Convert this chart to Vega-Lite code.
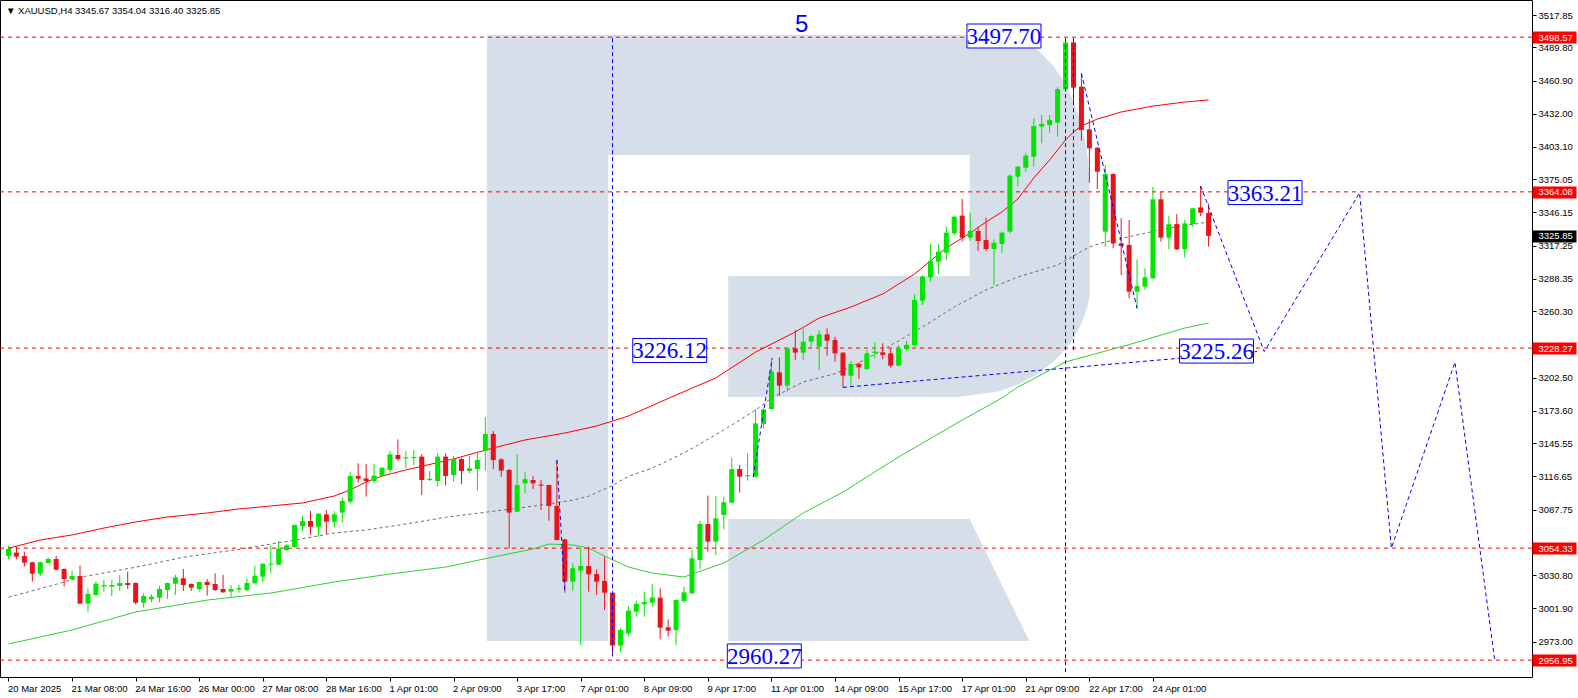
{
"$schema":"https://vega.github.io/schema/vega-lite/v6.json",
"width":1532,"height":677,
"autosize":{"type":"none"},
"padding":{"left":0,"top":0,"right":46,"bottom":21},
"background":"white",
"title":{"text":"▼ XAUUSD,H4  3345.67 3354.04 3316.40 3325.85","anchor":"start","orient":"top","frame":"group","offset":-15,"dx":6,"fontSize":9.5,"font":"Liberation Sans","fontWeight":"normal","color":"black"},
"config":{"view":{"stroke":"black","strokeWidth":1},"font":"Liberation Sans",
 "axis":{"title":null,"grid":false,"domain":false,"tickColor":"black","tickSize":4,"labelFont":"Liberation Sans","labelFontSize":9.5,"labelColor":"black","labelOverlap":false,"labelFlush":false,"labelBound":false}},
"datasets":{
"candles":[
{"i":0,"o":3047.5,"h":3056.2,"l":3044.6,"c":3053.6},
{"i":1,"o":3050.4,"h":3055.6,"l":3044.6,"c":3046.9},
{"i":2,"o":3047.5,"h":3051.3,"l":3038.2,"c":3041.7},
{"i":3,"o":3042.0,"h":3042.6,"l":3025.2,"c":3032.1},
{"i":4,"o":3032.1,"h":3042.6,"l":3030.4,"c":3042.0},
{"i":5,"o":3041.4,"h":3046.3,"l":3041.1,"c":3044.9},
{"i":6,"o":3044.9,"h":3047.5,"l":3035.0,"c":3035.6},
{"i":7,"o":3036.2,"h":3036.8,"l":3020.8,"c":3027.5},
{"i":8,"o":3027.5,"h":3035.0,"l":3026.6,"c":3030.1},
{"i":9,"o":3030.1,"h":3039.1,"l":3005.5,"c":3006.1},
{"i":10,"o":3006.1,"h":3019.4,"l":2999.1,"c":3014.5},
{"i":11,"o":3013.6,"h":3025.2,"l":3013.0,"c":3023.4},
{"i":12,"o":3021.1,"h":3026.6,"l":3016.5,"c":3022.2},
{"i":13,"o":3020.8,"h":3026.6,"l":3012.7,"c":3022.3},
{"i":14,"o":3021.4,"h":3031.0,"l":3017.1,"c":3024.0},
{"i":15,"o":3024.0,"h":3033.9,"l":3018.8,"c":3022.3},
{"i":16,"o":3024.0,"h":3024.6,"l":3005.5,"c":3006.9},
{"i":17,"o":3006.9,"h":3015.0,"l":3002.6,"c":3012.7},
{"i":18,"o":3009.8,"h":3014.2,"l":3007.2,"c":3012.1},
{"i":19,"o":3011.3,"h":3021.7,"l":3007.2,"c":3018.8},
{"i":20,"o":3017.9,"h":3024.3,"l":3010.1,"c":3024.0},
{"i":21,"o":3023.4,"h":3031.0,"l":3013.6,"c":3028.9},
{"i":22,"o":3028.1,"h":3036.2,"l":3017.1,"c":3022.3},
{"i":23,"o":3023.2,"h":3023.5,"l":3017.1,"c":3020.0},
{"i":24,"o":3018.8,"h":3025.2,"l":3016.5,"c":3024.9},
{"i":25,"o":3024.9,"h":3027.5,"l":3013.0,"c":3022.3},
{"i":26,"o":3023.2,"h":3032.4,"l":3017.1,"c":3017.9},
{"i":27,"o":3018.8,"h":3031.0,"l":3015.6,"c":3015.9},
{"i":28,"o":3016.5,"h":3022.3,"l":3012.1,"c":3018.8},
{"i":29,"o":3018.5,"h":3022.3,"l":3015.6,"c":3019.7},
{"i":30,"o":3017.9,"h":3028.1,"l":3017.1,"c":3024.0},
{"i":31,"o":3023.7,"h":3039.1,"l":3023.1,"c":3030.4},
{"i":32,"o":3029.5,"h":3041.1,"l":3025.2,"c":3040.8},
{"i":33,"o":3040.0,"h":3056.5,"l":3032.4,"c":3040.9},
{"i":34,"o":3040.0,"h":3060.5,"l":3039.8,"c":3053.9},
{"i":35,"o":3052.7,"h":3057.6,"l":3052.1,"c":3056.8},
{"i":36,"o":3055.3,"h":3074.8,"l":3055.0,"c":3074.5},
{"i":37,"o":3073.6,"h":3082.6,"l":3069.2,"c":3077.9},
{"i":38,"o":3077.9,"h":3086.6,"l":3065.8,"c":3073.0},
{"i":39,"o":3073.0,"h":3084.6,"l":3064.3,"c":3084.3},
{"i":40,"o":3083.7,"h":3087.5,"l":3066.6,"c":3077.3},
{"i":41,"o":3077.3,"h":3086.6,"l":3072.4,"c":3083.7},
{"i":42,"o":3085.2,"h":3098.2,"l":3076.5,"c":3095.3},
{"i":43,"o":3094.7,"h":3120.8,"l":3093.3,"c":3117.1},
{"i":44,"o":3117.1,"h":3128.1,"l":3111.3,"c":3114.7},
{"i":45,"o":3115.0,"h":3127.5,"l":3099.1,"c":3112.7},
{"i":46,"o":3112.7,"h":3127.5,"l":3110.7,"c":3117.4},
{"i":47,"o":3117.4,"h":3124.6,"l":3116.5,"c":3124.3},
{"i":48,"o":3122.3,"h":3138.8,"l":3119.9,"c":3135.9},
{"i":49,"o":3135.3,"h":3148.9,"l":3130.1,"c":3131.8},
{"i":50,"o":3132.4,"h":3138.8,"l":3123.7,"c":3133.4},
{"i":51,"o":3132.6,"h":3139.6,"l":3126.6,"c":3133.6},
{"i":52,"o":3133.9,"h":3136.2,"l":3100.5,"c":3113.6},
{"i":53,"o":3113.6,"h":3121.4,"l":3112.7,"c":3114.6},
{"i":54,"o":3112.7,"h":3136.8,"l":3107.8,"c":3133.9},
{"i":55,"o":3133.9,"h":3136.8,"l":3108.7,"c":3117.1},
{"i":56,"o":3117.9,"h":3134.4,"l":3112.1,"c":3131.8},
{"i":57,"o":3131.8,"h":3133.0,"l":3110.1,"c":3121.4},
{"i":58,"o":3121.4,"h":3134.4,"l":3119.4,"c":3123.7},
{"i":59,"o":3123.1,"h":3138.2,"l":3104.3,"c":3130.9},
{"i":60,"o":3139.1,"h":3168.1,"l":3121.7,"c":3153.6},
{"i":61,"o":3153.6,"h":3156.1,"l":3123.1,"c":3130.9},
{"i":62,"o":3131.5,"h":3132.4,"l":3116.5,"c":3121.7},
{"i":63,"o":3122.3,"h":3123.1,"l":3054.2,"c":3085.2},
{"i":64,"o":3086.0,"h":3136.2,"l":3085.5,"c":3109.2},
{"i":65,"o":3110.7,"h":3120.8,"l":3102.0,"c":3114.3},
{"i":66,"o":3113.6,"h":3117.1,"l":3105.8,"c":3110.7},
{"i":67,"o":3109.6,"h":3113.6,"l":3087.5,"c":3108.6},
{"i":68,"o":3109.2,"h":3109.5,"l":3078.2,"c":3091.0},
{"i":69,"o":3091.0,"h":3131.0,"l":3061.0,"c":3061.4},
{"i":70,"o":3062.0,"h":3062.3,"l":3015.6,"c":3025.2},
{"i":71,"o":3025.2,"h":3041.1,"l":3017.4,"c":3036.8},
{"i":72,"o":3034.8,"h":3054.2,"l":2970.1,"c":3038.8},
{"i":73,"o":3038.8,"h":3055.6,"l":3016.5,"c":3031.6},
{"i":74,"o":3031.8,"h":3035.9,"l":3013.6,"c":3025.2},
{"i":75,"o":3025.8,"h":3046.9,"l":3000.6,"c":3015.6},
{"i":76,"o":3015.6,"h":3015.9,"l":2960.3,"c":2969.6},
{"i":77,"o":2969.6,"h":2985.2,"l":2963.8,"c":2983.2},
{"i":78,"o":2980.3,"h":3004.0,"l":2977.9,"c":3000.0},
{"i":79,"o":2999.1,"h":3008.7,"l":2994.8,"c":3005.8},
{"i":80,"o":3005.5,"h":3016.5,"l":2994.8,"c":3007.5},
{"i":81,"o":3006.9,"h":3023.2,"l":3003.5,"c":3011.3},
{"i":82,"o":3011.3,"h":3019.4,"l":2975.1,"c":2985.2},
{"i":83,"o":2985.5,"h":2992.4,"l":2977.4,"c":2982.6},
{"i":84,"o":2983.2,"h":3009.8,"l":2970.1,"c":3009.2},
{"i":85,"o":3008.4,"h":3020.8,"l":3006.9,"c":3015.9},
{"i":86,"o":3015.0,"h":3052.7,"l":3014.7,"c":3045.5},
{"i":87,"o":3044.0,"h":3078.2,"l":3036.2,"c":3075.3},
{"i":88,"o":3075.3,"h":3100.0,"l":3051.3,"c":3060.0},
{"i":89,"o":3060.0,"h":3099.7,"l":3048.4,"c":3080.2},
{"i":90,"o":3083.2,"h":3099.1,"l":3070.7,"c":3094.2},
{"i":91,"o":3093.9,"h":3133.0,"l":3093.6,"c":3123.1},
{"i":92,"o":3123.1,"h":3126.6,"l":3102.6,"c":3116.5},
{"i":93,"o":3116.8,"h":3136.8,"l":3113.0,"c":3117.8},
{"i":94,"o":3116.5,"h":3175.0,"l":3116.2,"c":3162.8},
{"i":95,"o":3162.3,"h":3175.9,"l":3158.5,"c":3175.0},
{"i":96,"o":3175.3,"h":3219.4,"l":3175.0,"c":3207.8},
{"i":97,"o":3207.2,"h":3220.2,"l":3186.9,"c":3195.6},
{"i":98,"o":3195.6,"h":3228.9,"l":3190.4,"c":3228.0},
{"i":99,"o":3228.0,"h":3244.0,"l":3217.9,"c":3224.3},
{"i":100,"o":3224.3,"h":3245.4,"l":3217.9,"c":3233.8},
{"i":101,"o":3233.8,"h":3239.6,"l":3228.0,"c":3238.8},
{"i":102,"o":3229.5,"h":3244.0,"l":3209.2,"c":3240.2},
{"i":103,"o":3240.2,"h":3245.4,"l":3221.7,"c":3234.7},
{"i":104,"o":3235.3,"h":3238.2,"l":3216.4,"c":3223.7},
{"i":105,"o":3224.3,"h":3224.6,"l":3193.9,"c":3204.3},
{"i":106,"o":3204.3,"h":3217.0,"l":3195.3,"c":3214.4},
{"i":107,"o":3214.4,"h":3215.9,"l":3201.4,"c":3211.5},
{"i":108,"o":3210.1,"h":3226.6,"l":3209.2,"c":3223.7},
{"i":109,"o":3224.1,"h":3233.3,"l":3219.4,"c":3225.1},
{"i":110,"o":3224.6,"h":3232.4,"l":3218.5,"c":3222.3},
{"i":111,"o":3223.7,"h":3228.0,"l":3211.2,"c":3213.0},
{"i":112,"o":3213.0,"h":3230.9,"l":3212.7,"c":3228.0},
{"i":113,"o":3227.7,"h":3234.4,"l":3226.0,"c":3231.0},
{"i":114,"o":3230.9,"h":3275.0,"l":3229.5,"c":3270.1},
{"i":115,"o":3269.5,"h":3291.8,"l":3265.7,"c":3290.4},
{"i":116,"o":3289.8,"h":3318.8,"l":3286.0,"c":3304.0},
{"i":117,"o":3303.4,"h":3318.5,"l":3292.7,"c":3312.1},
{"i":118,"o":3311.2,"h":3333.8,"l":3304.8,"c":3328.6},
{"i":119,"o":3328.0,"h":3343.4,"l":3326.6,"c":3342.5},
{"i":120,"o":3343.4,"h":3357.9,"l":3320.8,"c":3324.3},
{"i":121,"o":3324.3,"h":3346.0,"l":3321.4,"c":3330.1},
{"i":122,"o":3330.1,"h":3333.8,"l":3313.0,"c":3321.4},
{"i":123,"o":3322.2,"h":3341.9,"l":3312.7,"c":3314.4},
{"i":124,"o":3314.4,"h":3322.8,"l":3283.1,"c":3319.9},
{"i":125,"o":3318.8,"h":3329.5,"l":3311.2,"c":3328.6},
{"i":126,"o":3329.5,"h":3379.3,"l":3328.0,"c":3378.2},
{"i":127,"o":3377.3,"h":3386.6,"l":3369.2,"c":3386.0},
{"i":128,"o":3385.1,"h":3398.2,"l":3381.6,"c":3395.6},
{"i":129,"o":3394.7,"h":3428.0,"l":3386.0,"c":3421.3},
{"i":130,"o":3420.8,"h":3430.9,"l":3406.3,"c":3423.1},
{"i":131,"o":3422.2,"h":3430.9,"l":3415.5,"c":3426.6},
{"i":132,"o":3424.2,"h":3455.0,"l":3412.1,"c":3453.5},
{"i":133,"o":3453.2,"h":3497.7,"l":3451.2,"c":3494.0},
{"i":134,"o":3494.0,"h":3497.7,"l":3442.5,"c":3454.7},
{"i":135,"o":3455.5,"h":3467.1,"l":3408.6,"c":3417.9},
{"i":136,"o":3418.4,"h":3427.1,"l":3372.1,"c":3401.9},
{"i":137,"o":3402.5,"h":3402.8,"l":3366.6,"c":3381.6},
{"i":138,"o":3329.5,"h":3387.4,"l":3316.4,"c":3379.6},
{"i":139,"o":3379.6,"h":3380.2,"l":3315.0,"c":3319.3},
{"i":140,"o":3319.3,"h":3341.1,"l":3291.8,"c":3317.0},
{"i":141,"o":3317.9,"h":3339.6,"l":3271.5,"c":3277.3},
{"i":142,"o":3277.3,"h":3305.4,"l":3262.8,"c":3282.2},
{"i":143,"o":3281.7,"h":3297.6,"l":3278.8,"c":3289.8},
{"i":144,"o":3288.9,"h":3368.6,"l":3288.6,"c":3357.6},
{"i":145,"o":3357.6,"h":3364.3,"l":3320.8,"c":3324.3},
{"i":146,"o":3324.3,"h":3343.1,"l":3314.4,"c":3335.9},
{"i":147,"o":3336.1,"h":3344.8,"l":3313.5,"c":3314.1},
{"i":148,"o":3314.4,"h":3339.6,"l":3306.9,"c":3336.7},
{"i":149,"o":3336.1,"h":3350.3,"l":3333.8,"c":3349.8},
{"i":150,"o":3350.6,"h":3369.2,"l":3343.1,"c":3346.0},
{"i":151,"o":3345.67,"h":3354.04,"l":3316.40,"c":3325.85}
],
"ma_red":[
{"i":0,"p":3054.2},{"i":4,"p":3061.4},{"i":8,"p":3065.8},{"i":12,"p":3071.8},{"i":16,"p":3077.1},{"i":20,"p":3081.4},{"i":25,"p":3084.9},{"i":29,"p":3088.4},{"i":33,"p":3091.0},{"i":37,"p":3093.6},{"i":41,"p":3099.7},{"i":43,"p":3104.9},{"i":45,"p":3111.8},{"i":47,"p":3117.0},{"i":50,"p":3122.3},{"i":56,"p":3131.9},{"i":61,"p":3141.4},{"i":65,"p":3148.4},{"i":70,"p":3154.4},{"i":74,"p":3160.5},{"i":78,"p":3169.2},{"i":84,"p":3187.5},{"i":89,"p":3202.3},{"i":94,"p":3224.8},{"i":99,"p":3242.3},{"i":102,"p":3254.4},{"i":106,"p":3264.0},{"i":110,"p":3275.3},{"i":114,"p":3292.7},{"i":118,"p":3315.3},{"i":121,"p":3328.3},{"i":123,"p":3337.9},{"i":125,"p":3346.6},{"i":127,"p":3357.9},{"i":129,"p":3376.1},{"i":131,"p":3391.8},{"i":133,"p":3409.2},{"i":134,"p":3416.1},{"i":135,"p":3421.4},{"i":137,"p":3427.4},{"i":140,"p":3433.5},{"i":144,"p":3438.7},{"i":148,"p":3442.2},{"i":151,"p":3444.0}
],
"ma_gray":[
{"i":0,"p":3011.6},{"i":6,"p":3022.9},{"i":9,"p":3029.0},{"i":16,"p":3037.7},{"i":22,"p":3046.4},{"i":29,"p":3053.3},{"i":33,"p":3057.9},{"i":36,"p":3061.3},{"i":41,"p":3067.5},{"i":45,"p":3070.1},{"i":50,"p":3075.3},{"i":55,"p":3081.2},{"i":61,"p":3086.4},{"i":66,"p":3090.8},{"i":71,"p":3096.0},{"i":73,"p":3099.4},{"i":76,"p":3108.9},{"i":78,"p":3116.7},{"i":81,"p":3124.0},{"i":85,"p":3137.1},{"i":90,"p":3157.0},{"i":94,"p":3174.4},{"i":96,"p":3184.9},{"i":100,"p":3198.8},{"i":104,"p":3206.0},{"i":106,"p":3211.8},{"i":110,"p":3226.6},{"i":115,"p":3246.6},{"i":119,"p":3264.0},{"i":123,"p":3278.8},{"i":127,"p":3290.1},{"i":132,"p":3300.5},{"i":136,"p":3316.2},{"i":138,"p":3320.5},{"i":142,"p":3326.6},{"i":146,"p":3332.7},{"i":151,"p":3337.9}
],
"ma_green":[
{"i":0,"p":2971.0},{"i":8,"p":2983.2},{"i":16,"p":2998.8},{"i":25,"p":3009.2},{"i":33,"p":3015.3},{"i":41,"p":3024.9},{"i":48,"p":3031.8},{"i":55,"p":3037.9},{"i":61,"p":3046.6},{"i":66,"p":3053.6},{"i":68,"p":3057.9},{"i":71,"p":3057.1},{"i":73,"p":3054.4},{"i":75,"p":3047.5},{"i":78,"p":3037.9},{"i":81,"p":3032.7},{"i":85,"p":3029.2},{"i":86,"p":3031.8},{"i":90,"p":3041.4},{"i":95,"p":3061.4},{"i":100,"p":3084.9},{"i":105,"p":3103.1},{"i":112,"p":3133.6},{"i":120,"p":3165.7},{"i":125,"p":3184.9},{"i":127,"p":3194.4},{"i":133,"p":3216.2},{"i":141,"p":3231.3},{"i":148,"p":3245.7},{"i":151,"p":3250.1}
],
"levels":[{"p":3498.57},{"p":3364.08},{"p":3228.27},{"p":3054.33},{"p":2956.95}],
"dashes":[
{"s":1,"n":0,"i":76,"p":3497.7},{"s":1,"n":1,"i":76,"p":2960.27},
{"s":2,"n":0,"i":133,"p":3497.7},{"s":2,"n":1,"i":133,"p":2946.6},
{"s":3,"n":0,"i":134,"p":3497.7},{"s":3,"n":1,"i":134,"p":3226.0},
{"s":4,"n":0,"i":69,"p":3131.0},{"s":4,"n":1,"i":70,"p":3015.6},
{"s":5,"n":0,"i":93.7,"p":3116.2},{"s":5,"n":1,"i":96.1,"p":3219.6},
{"s":6,"n":0,"i":105,"p":3194.1},{"s":6,"n":1,"i":157.1,"p":3225.26},
{"s":7,"n":0,"i":135,"p":3467.1},{"s":7,"n":1,"i":142,"p":3262.8},
{"s":8,"n":0,"i":150,"p":3369.2},{"s":8,"n":1,"i":158,"p":3225.26},{"s":8,"n":2,"i":170,"p":3363.21},{"s":8,"n":3,"i":174,"p":3054.33},{"s":8,"n":4,"i":182,"p":3216.0},{"s":8,"n":5,"i":187,"p":2956.95}
],
"labels":[
{"t":"3497.70","i":125.25,"p":3499.6},
{"t":"3363.21","i":158.1,"p":3363.5},
{"t":"3225.26","i":152.0,"p":3225.7},
{"t":"3226.12","i":83.2,"p":3226.2},
{"t":"2960.27","i":95.1,"p":2960.6}
],
"wave":[{"t":"5","i":99.8,"p":3509.2}],
"wm_stem":[{"i":60.19,"i2":75.44,"p":3500.46,"p2":2973.6}],
"wm_bowl":[
{"i":75.3,"p":3500.46,"p2":3185.74},
{"i":119.56,"p":3500.46,"p2":3185.74},
{"i":124.56,"p":3500.46,"p2":3190.44},
{"i":127.06,"p":3497.25,"p2":3196.70},
{"i":129.56,"p":3487.07,"p2":3206.18},
{"i":131.44,"p":3473.68,"p2":3216.27},
{"i":132.69,"p":3461.08,"p2":3225.05},
{"i":133.94,"p":3443.78,"p2":3236.35},
{"i":134.81,"p":3426.82,"p2":3246.74},
{"i":135.44,"p":3409.52,"p2":3257.30},
{"i":135.81,"p":3393.53,"p2":3266.00},
{"i":136.06,"p":3365.71,"p2":3275.03}
],
"wm_holes":[{"i":75.44,"i2":120.94,"p":3396.1,"p2":3290.9},{"i":75.44,"i2":90.56,"p":3291.5,"p2":3184.0}],
"wm_leg":[{"i":90.56,"p":3079.7,"p2":2973.6},{"i":120.94,"p":3079.7,"p2":2973.6},{"i":128.44,"p":2973.6,"p2":2973.6}]
},
"encoding":{
 "x":{"field":"i","type":"quantitative","scale":{"domain":[-0.4375,191.0625],"nice":false,"zero":false},
   "axis":{"orient":"bottom","values":[0,8,16,24,32,40,48,56,64,72,80,88,96,104,112,120,128,136,144],
   "labelExpr":"['20 Mar 2025','21 Mar 08:00','24 Mar 16:00','26 Mar 00:00','27 Mar 08:00','28 Mar 16:00','1 Apr 01:00','2 Apr 09:00','3 Apr 17:00','7 Apr 01:00','8 Apr 09:00','9 Apr 17:00','11 Apr 01:00','14 Apr 09:00','15 Apr 17:00','17 Apr 01:00','21 Apr 09:00','22 Apr 17:00','24 Apr 01:00'][round(datum.value/8)]",
   "labelAlign":"left","labelBaseline":"top","labelPadding":2,"labelOffset":-1}},
 "y":{"field":"p","type":"quantitative","scale":{"domain":[2942.3,3530.9],"nice":false,"zero":false},
   "axis":{"orient":"right","values":[3517.85,3498.57,3489.80,3460.90,3432.00,3403.10,3375.05,3364.08,3346.15,3325.85,3317.25,3288.35,3260.30,3228.27,3202.50,3173.60,3145.55,3116.65,3087.75,3054.33,3030.80,3001.90,2973.00,2956.95],
   "format":".2f","labelAlign":"left","labelBaseline":"middle",
   "tickSize":{"condition":{"test":"indexof([3498.57,3364.08,3228.27,3054.33,2956.95,3325.85],datum.value)>=0","value":44},"value":4},
   "tickWidth":{"condition":{"test":"indexof([3498.57,3364.08,3228.27,3054.33,2956.95,3325.85],datum.value)>=0","value":12},"value":1},
   "tickColor":{"condition":{"test":"indexof([3498.57,3364.08,3228.27,3054.33,2956.95],datum.value)>=0","value":"#ff0000"},"value":"black"},
   "labelColor":{"condition":{"test":"indexof([3498.57,3364.08,3228.27,3054.33,2956.95,3325.85],datum.value)>=0","value":"white"},"value":"black"},
   "labelPadding":{"condition":{"test":"indexof([3498.57,3364.08,3228.27,3054.33,2956.95,3325.85],datum.value)>=0","value":-38},"value":2}}}
},
"layer":[
{"data":{"name":"wm_stem"},"mark":{"type":"rect","color":"#d6dee9"},"encoding":{"x2":{"field":"i2"},"y2":{"field":"p2"}}},
{"data":{"name":"wm_bowl"},"mark":{"type":"area","color":"#d6dee9","opacity":1},"encoding":{"y2":{"field":"p2"}}},
{"data":{"name":"wm_holes"},"mark":{"type":"rect","color":"white"},"encoding":{"x2":{"field":"i2"},"y2":{"field":"p2"}}},
{"data":{"name":"wm_leg"},"mark":{"type":"area","color":"#d6dee9","opacity":1},"encoding":{"y2":{"field":"p2"}}},
{"data":{"name":"levels"},"mark":{"type":"rule","color":"#ff0000","strokeDash":[4,4],"strokeWidth":1},"encoding":{"x":null}},
{"data":{"name":"ma_red"},"mark":{"type":"line","color":"#ff0000","strokeWidth":1},"encoding":{}},
{"data":{"name":"ma_gray"},"mark":{"type":"line","color":"#6a6a6a","strokeWidth":1,"strokeDash":[3,3]},"encoding":{}},
{"data":{"name":"ma_green"},"mark":{"type":"line","color":"#32cd32","strokeWidth":1},"encoding":{}},
{"data":{"name":"candles"},"mark":{"type":"rule","strokeWidth":1},
 "encoding":{"y":{"field":"l","type":"quantitative","scale":{"domain":[2942.3,3530.9],"nice":false,"zero":false},
   "axis":{"orient":"right","values":[3517.85,3498.57,3489.80,3460.90,3432.00,3403.10,3375.05,3364.08,3346.15,3325.85,3317.25,3288.35,3260.30,3228.27,3202.50,3173.60,3145.55,3116.65,3087.75,3054.33,3030.80,3001.90,2973.00,2956.95],
   "format":".2f","labelAlign":"left","labelBaseline":"middle",
   "tickSize":{"condition":{"test":"indexof([3498.57,3364.08,3228.27,3054.33,2956.95,3325.85],datum.value)>=0","value":44},"value":4},
   "tickWidth":{"condition":{"test":"indexof([3498.57,3364.08,3228.27,3054.33,2956.95,3325.85],datum.value)>=0","value":12},"value":1},
   "tickColor":{"condition":{"test":"indexof([3498.57,3364.08,3228.27,3054.33,2956.95],datum.value)>=0","value":"#ff0000"},"value":"black"},
   "labelColor":{"condition":{"test":"indexof([3498.57,3364.08,3228.27,3054.33,2956.95,3325.85],datum.value)>=0","value":"white"},"value":"black"},
   "labelPadding":{"condition":{"test":"indexof([3498.57,3364.08,3228.27,3054.33,2956.95,3325.85],datum.value)>=0","value":-38},"value":2}}},
 "y2":{"field":"h"},
 "color":{"condition":{"test":"datum.c >= datum.o","value":"#00e600"},"value":"#e8141c"}}},
{"data":{"name":"candles"},"mark":{"type":"bar","size":5},
 "encoding":{"y":{"field":"o","type":"quantitative","scale":{"domain":[2942.3,3530.9],"nice":false,"zero":false},
   "axis":{"orient":"right","values":[3517.85,3498.57,3489.80,3460.90,3432.00,3403.10,3375.05,3364.08,3346.15,3325.85,3317.25,3288.35,3260.30,3228.27,3202.50,3173.60,3145.55,3116.65,3087.75,3054.33,3030.80,3001.90,2973.00,2956.95],
   "format":".2f","labelAlign":"left","labelBaseline":"middle",
   "tickSize":{"condition":{"test":"indexof([3498.57,3364.08,3228.27,3054.33,2956.95,3325.85],datum.value)>=0","value":44},"value":4},
   "tickWidth":{"condition":{"test":"indexof([3498.57,3364.08,3228.27,3054.33,2956.95,3325.85],datum.value)>=0","value":12},"value":1},
   "tickColor":{"condition":{"test":"indexof([3498.57,3364.08,3228.27,3054.33,2956.95],datum.value)>=0","value":"#ff0000"},"value":"black"},
   "labelColor":{"condition":{"test":"indexof([3498.57,3364.08,3228.27,3054.33,2956.95,3325.85],datum.value)>=0","value":"white"},"value":"black"},
   "labelPadding":{"condition":{"test":"indexof([3498.57,3364.08,3228.27,3054.33,2956.95,3325.85],datum.value)>=0","value":-38},"value":2}}},
 "y2":{"field":"c"},
 "color":{"condition":{"test":"datum.c >= datum.o","value":"#00e600"},"value":"#e8141c"}}},
{"data":{"name":"dashes"},"mark":{"type":"line","color":"#0000ff","strokeWidth":1,"strokeDash":[4,3]},
 "encoding":{"detail":{"field":"s","type":"nominal"},"order":{"field":"n","type":"quantitative"}}},
{"data":{"name":"labels"},"mark":{"type":"point","shape":"M-1,-0.3243L1,-0.3243L1,0.3243L-1,0.3243Z","size":5476,"filled":true,"fill":"white","stroke":"#0000ff","strokeWidth":1,"opacity":1},"encoding":{}},
{"data":{"name":"labels"},"mark":{"type":"text","font":"Liberation Sans Narrow","fontSize":23,"color":"#0000ff","align":"center","baseline":"middle","dy":1},
 "encoding":{"text":{"field":"t"}}},
{"data":{"name":"wave"},"mark":{"type":"text","font":"Liberation Sans","fontSize":24,"color":"#0000ff","align":"center","baseline":"middle"},
 "encoding":{"text":{"field":"t"}}}
]
}
